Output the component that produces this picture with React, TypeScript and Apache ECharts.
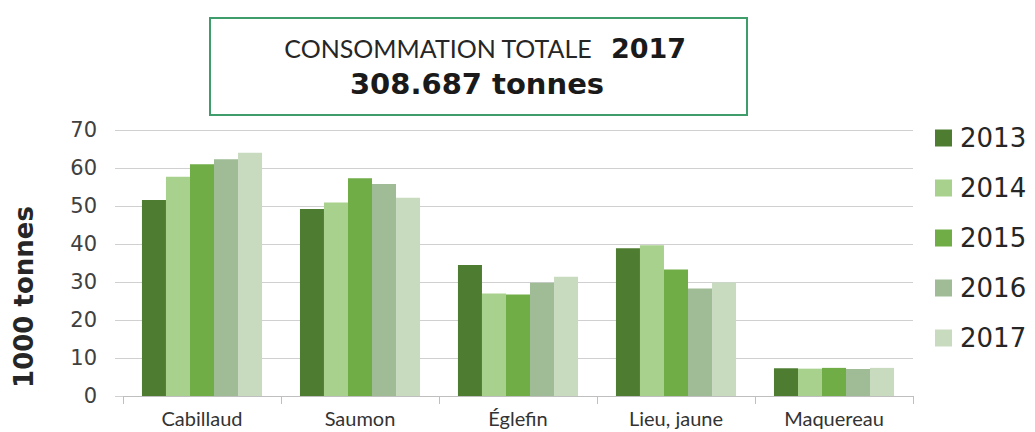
import React, { useEffect, useRef } from "react";
import * as echarts from "echarts";

const categories = ["Cabillaud", "Saumon", "Églefin", "Lieu, jaune", "Maquereau"];
const years = ["2013", "2014", "2015", "2016", "2017"];
const v2013 = [51.6, 49.2, 34.5, 38.9, 7.3];
const v2014 = [57.7, 50.9, 27.0, 39.7, 7.2];
const v2015 = [61.0, 57.3, 26.7, 33.3, 7.4];
const v2016 = [62.3, 55.8, 29.8, 28.3, 7.1];
const v2017 = [64.0, 52.2, 31.4, 29.9, 7.4];
const seriesValues = [v2013, v2014, v2015, v2016, v2017];
const colors = ["#4e7d31", "#a9d18e", "#70ad47", "#9fbc96", "#c8dbbf"];
const yTicks = [0, 10, 20, 30, 40, 50, 60, 70];

export default function App() {
  const ref = useRef<HTMLDivElement>(null);
  useEffect(() => {
    if (!ref.current) return;
    const chart = echarts.init(ref.current, null, { renderer: "svg" });
    chart.setOption({
      animation: false,
      backgroundColor: "#ffffff",
      textStyle: { fontFamily: "DejaVu Sans" },
      grid: { left: 123, right: 122, top: 130, bottom: 36, containLabel: false },
      legend: {
        orient: "vertical",
        left: 935,
        top: 124,
        padding: 0,
        itemWidth: 17,
        itemHeight: 17,
        itemGap: 22,
        icon: "rect",
        data: years,
        textStyle: { fontFamily: "DejaVu Sans", fontSize: 26, color: "#262626", lineHeight: 28, padding: [0, 0, 0, 3] },
      },
      xAxis: {
        type: "category",
        data: categories,
        boundaryGap: true,
        axisLine: { show: true, lineStyle: { color: "#bfbfbf", width: 1 } },
        axisTick: { show: true, alignWithLabel: false, length: 8, lineStyle: { color: "#bfbfbf" } },
        axisLabel: { margin: 11, fontFamily: "Lato", fontSize: 20, lineHeight: 22, color: "#333333" },
      },
      yAxis: {
        type: "value",
        min: yTicks[0],
        max: yTicks[yTicks.length - 1],
        interval: 10,
        axisLine: { show: false },
        axisTick: { show: true, length: 8, lineStyle: { color: "#d0d0d0" } },
        splitLine: { show: true, lineStyle: { color: "#d0d0d0", width: 1 } },
        axisLabel: { margin: 26, fontFamily: "DejaVu Sans", fontSize: 21, color: "#404040" },
      },
      series: years.map((y, i) => ({
        name: y,
        type: "bar",
        data: seriesValues[i],
        barGap: "0%",
        barCategoryGap: "24%",
        itemStyle: { color: colors[i] },
      })),
      graphic: [
        {
          type: "text",
          x: 24,
          y: 297,
          rotation: Math.PI / 2,
          style: {
            text: "1000 tonnes",
            align: "center",
            verticalAlign: "middle",
            fontFamily: "DejaVu Sans",
            fontWeight: "bold",
            fontSize: 26,
            fill: "#262626",
          },
        },
        {
          type: "rect",
          shape: { x: 210, y: 18, width: 537, height: 97 },
          style: { fill: "#ffffff", stroke: "#3f9d6b", lineWidth: 2 },
          z: 10,
        },
        {
          type: "text",
          x: 485,
          y: 48,
          z: 11,
          style: {
            text: "{a|CONSOMMATION TOTALE}{b|  2017}",
            align: "center",
            verticalAlign: "middle",
            rich: {
              a: { fontFamily: "Lato", fontSize: 25, fill: "#262626" },
              b: { fontFamily: "DejaVu Sans", fontWeight: "bold", fontSize: 27, fill: "#1a1a1a" },
            },
          },
        },
        {
          type: "text",
          x: 477,
          y: 84,
          z: 11,
          style: {
            text: "308.687 tonnes",
            align: "center",
            verticalAlign: "middle",
            fontFamily: "DejaVu Sans",
            fontWeight: "bold",
            fontSize: 29,
            fill: "#1a1a1a",
          },
        },
      ],
    });
    return () => chart.dispose();
  }, []);
  return <div ref={ref} style={{ width: 1035, height: 432, position: "absolute", left: 0, top: 0 }} />;
}
